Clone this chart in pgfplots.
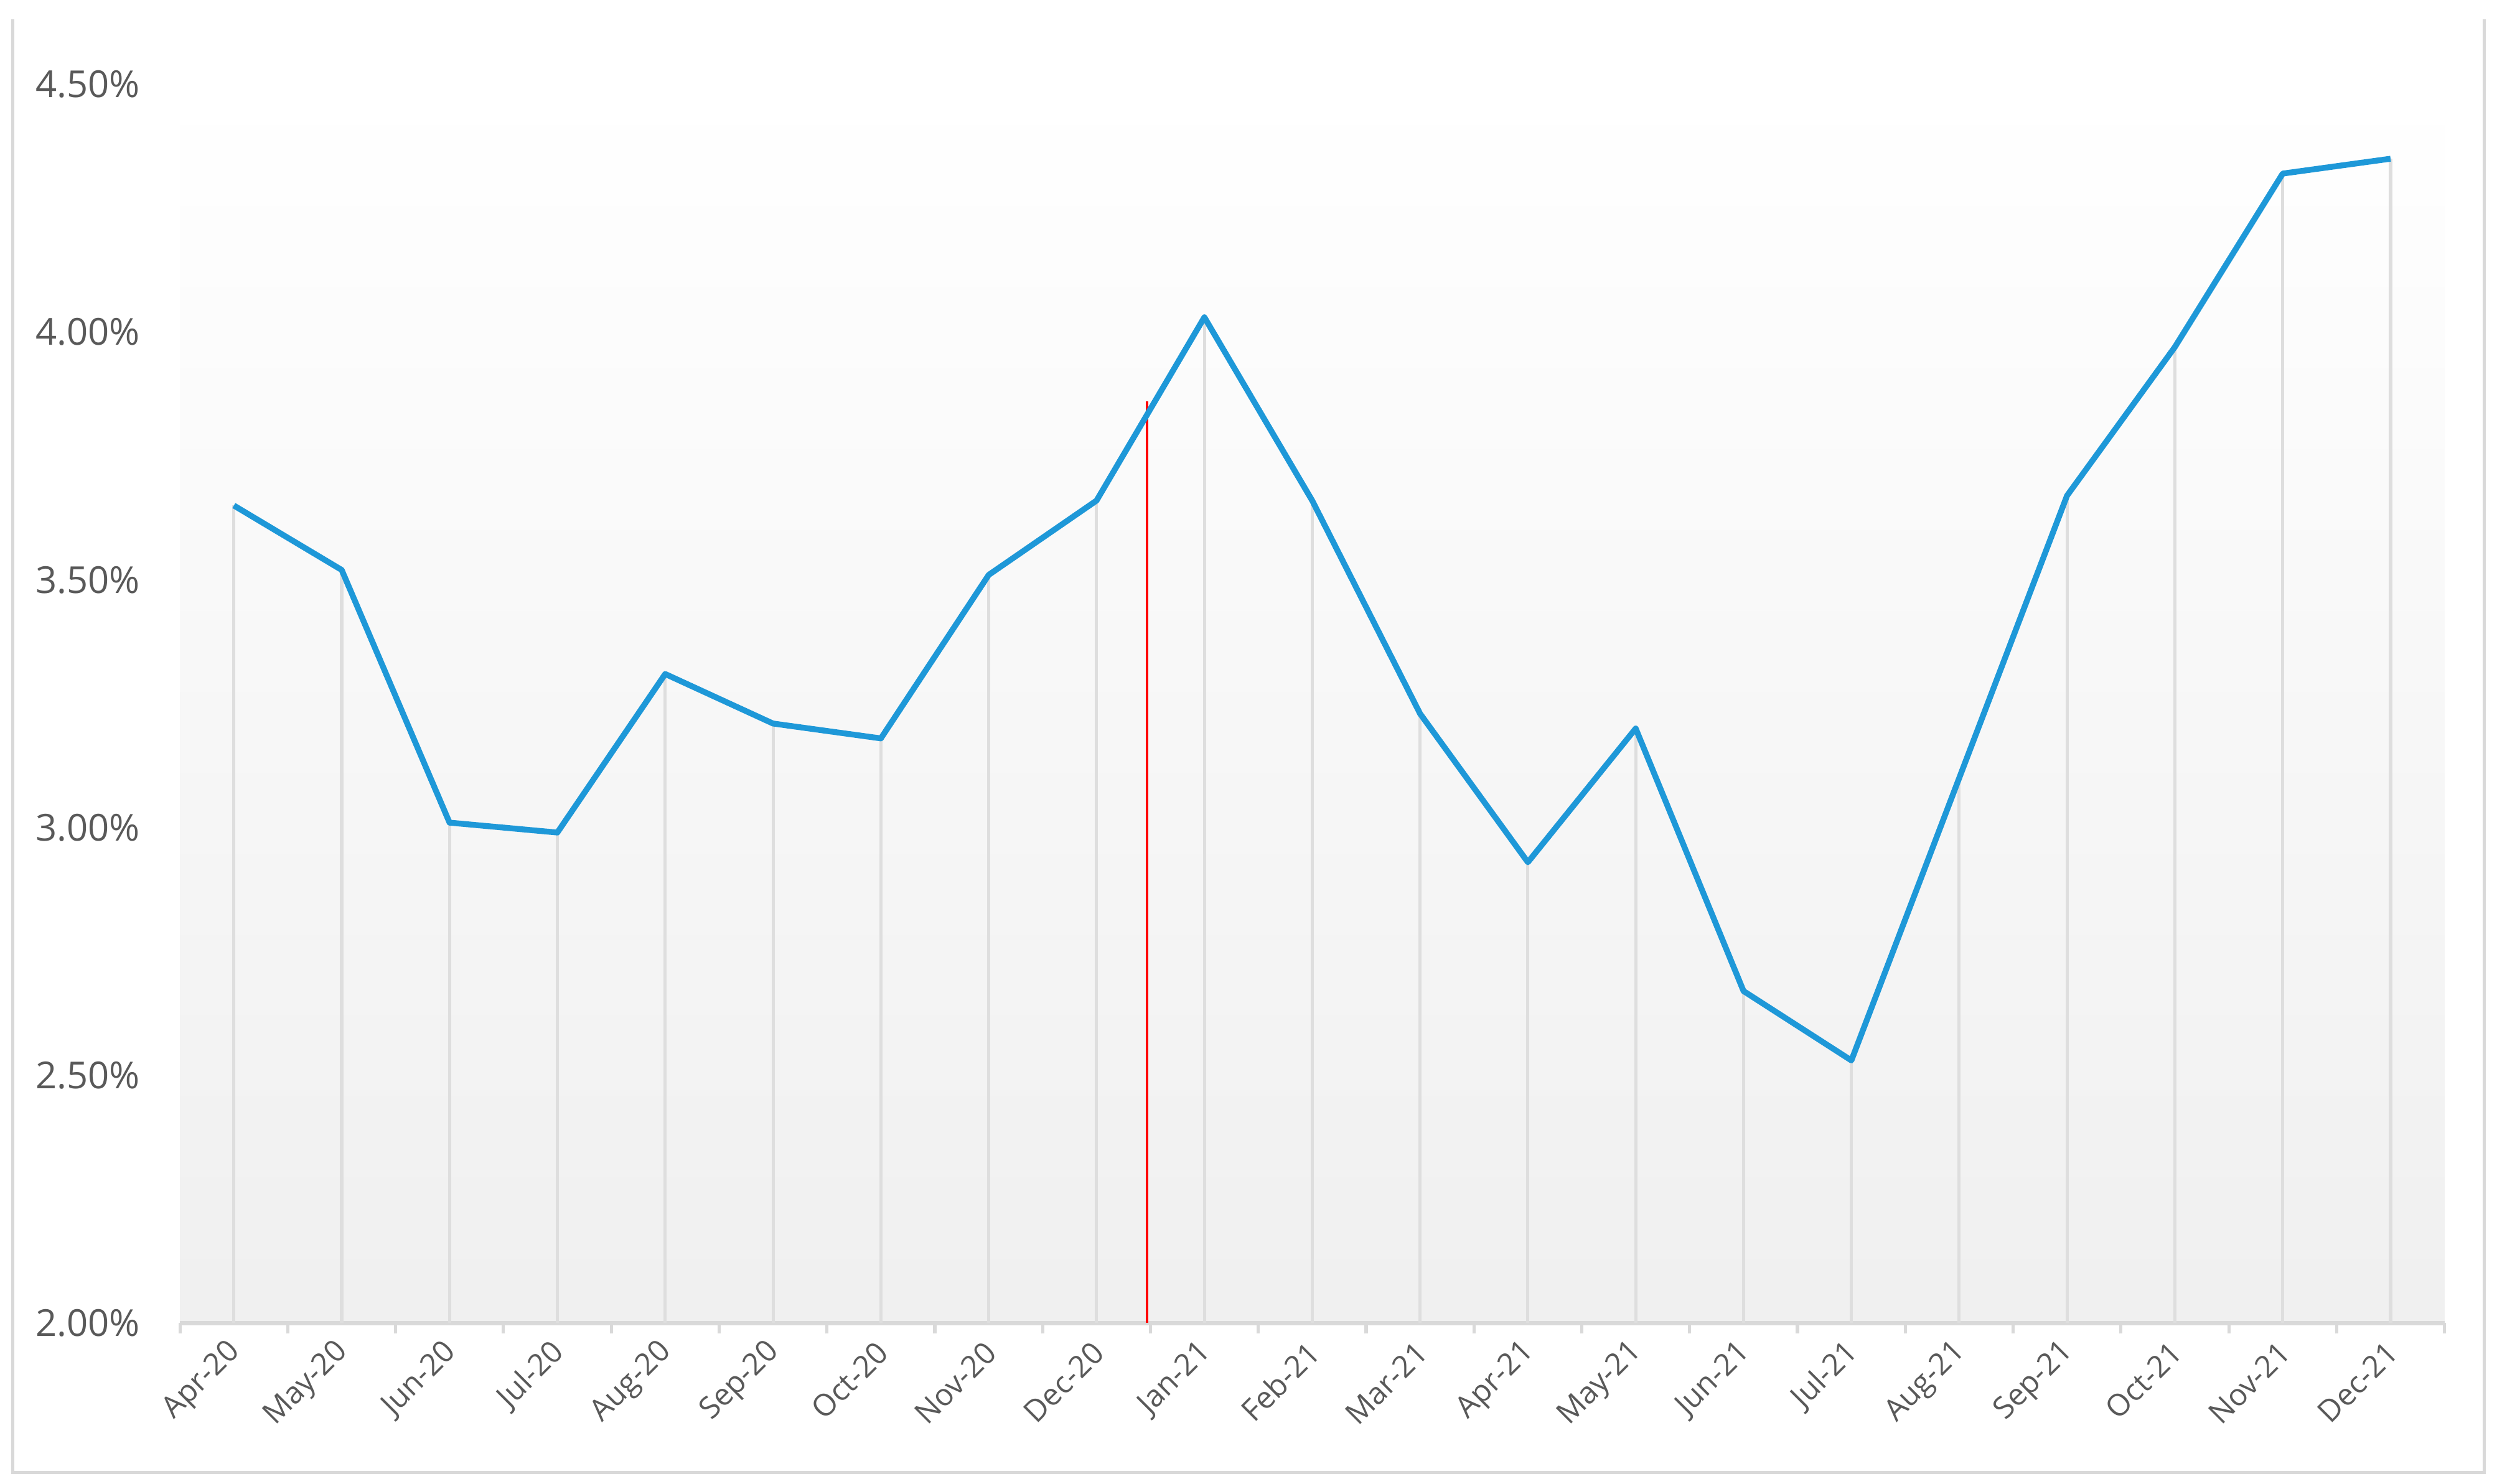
\documentclass[border=0pt]{standalone}
\usepackage{fontspec}
\setmainfont{Open Sans}
\usepackage{pgfplots}
\pgfplotsset{compat=1.18}
\definecolor{blueline}{RGB}{30,152,216}
\definecolor{axgray}{RGB}{217,217,217}
\definecolor{dropgray}{RGB}{222,222,222}
\definecolor{labgray}{RGB}{89,89,89}
\begin{document}
\begin{tikzpicture}
\useasboundingbox (-33.9pt,-30.3pt) rectangle (436.5pt,249.3pt);
\draw[axgray, line width=0.6pt] (-31.5pt,245.7pt) -- (-31.5pt,-28.2pt) -- (434.1pt,-28.2pt) -- (434.1pt,245.7pt);
\begin{axis}[
  at={(0pt,0pt)}, anchor=south west,
  scale only axis,
  width=426.6pt, height=233.4pt,
  xmin=-0.5, xmax=20.5,
  ymin=2, ymax=4.5,
  axis x line*=bottom, axis y line*=left,
  x axis line style={draw=axgray, line width=0.8pt, -},
  y axis line style={draw=none},
  axis background/.style={top color=white, bottom color=black!6},
  xtick={0,...,20},
  xticklabels={Apr-20,May-20,Jun-20,Jul-20,Aug-20,Sep-20,Oct-20,Nov-20,Dec-20,Jan-21,Feb-21,Mar-21,Apr-21,May-21,Jun-21,Jul-21,Aug-21,Sep-21,Oct-21,Nov-21,Dec-21},
  minor xtick={-0.5,0.5,...,20.5},
  major tick length=0pt,
  minor tick length=2pt,
  tick align=outside,
  xtick pos=bottom, ytick pos=left,
  minor tick style={draw=axgray, line width=0.6pt},
  ytick={2,2.5,3,3.5,4,4.5},
  yticklabels={2.00\%,2.50\%,3.00\%,3.50\%,4.00\%,4.50\%},
  yticklabel style={font=\fontsize{7}{8}\selectfont, text=labgray, xshift=-4pt},
  xticklabel style={font=\fontsize{5.7}{6.5}\selectfont, text=labgray, rotate=45, anchor=east, yshift=-3.5pt, xshift=0.5pt},
  /pgf/number format/assume math mode=true,
]
\addplot[ycomb, draw=dropgray, line width=0.6pt] table {
x y
0 3.65
1 3.52
2 3.01
3 2.99
4 3.31
5 3.21
6 3.18
7 3.51
8 3.66
9 4.03
10 3.66
11 3.23
12 2.93
13 3.20
14 2.67
15 2.53
16 3.10
17 3.67
18 3.97
19 4.32
20 4.35
};
\addplot[red, line width=0.5pt] coordinates {(8.47,2.0) (8.47,3.86)};
\addplot[blueline, line width=1.1pt, line join=round] table {
x y
0 3.65
1 3.52
2 3.01
3 2.99
4 3.31
5 3.21
6 3.18
7 3.51
8 3.66
9 4.03
10 3.66
11 3.23
12 2.93
13 3.20
14 2.67
15 2.53
16 3.10
17 3.67
18 3.97
19 4.32
20 4.35
};
\end{axis}
\end{tikzpicture}
\end{document}
